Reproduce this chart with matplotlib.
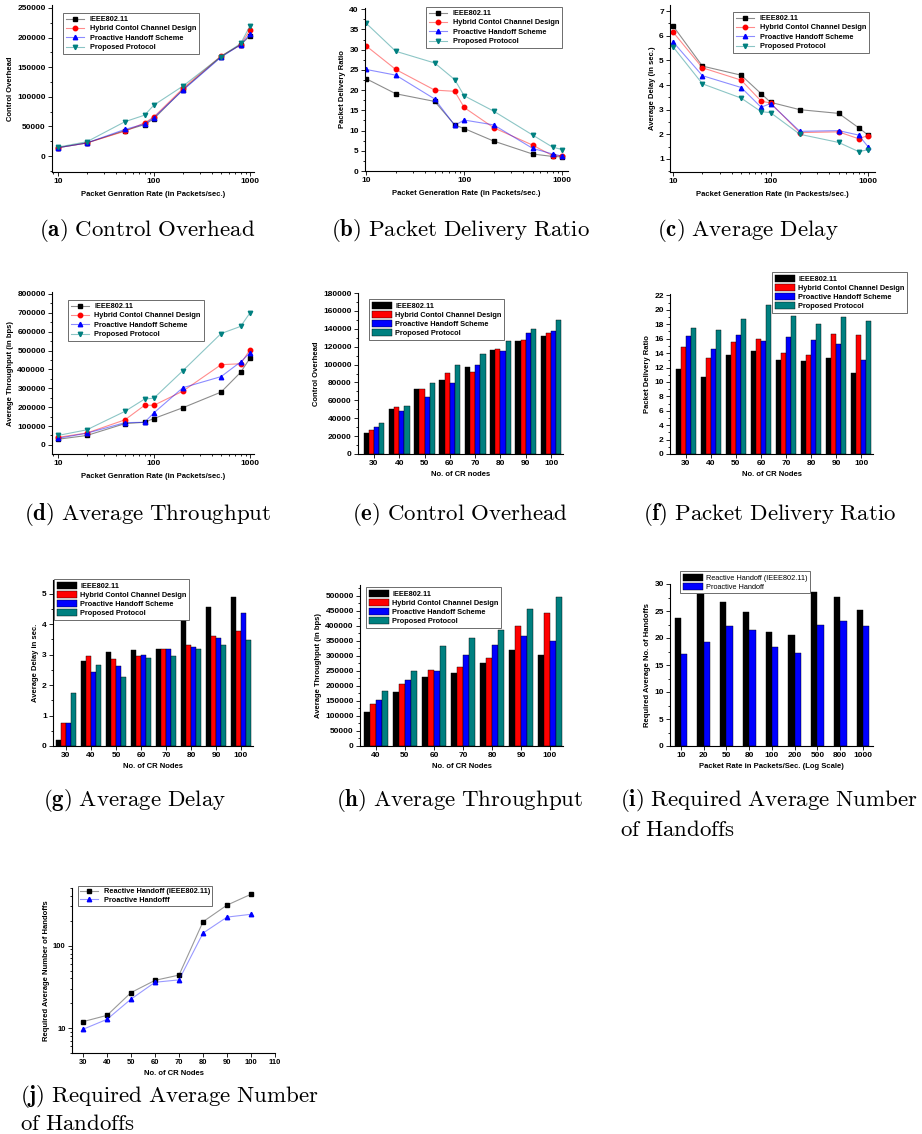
import numpy as np
import matplotlib
matplotlib.use('Agg')
import matplotlib.pyplot as plt
from matplotlib.ticker import MultipleLocator, AutoMinorLocator, FixedLocator, NullFormatter, LogLocator, FuncFormatter

plt.rcParams['font.family'] = ['Liberation Sans', 'DejaVu Sans']
plt.rcParams['font.weight'] = 'bold'
plt.rcParams['axes.labelweight'] = 'bold'
plt.rcParams['mathtext.fontset'] = 'cm'

# ---- data ----
rates = [10, 20, 50, 80, 100, 200, 500, 800, 1000]
nodes = [30, 40, 50, 60, 70, 80, 90, 100]
nodes_h = [40, 50, 60, 70, 80, 90, 100]
rate_labels = ['10', '20', '50', '80', '100', '200', '500', '800', '1000']

names = ['IEEE802.11', 'Hybrid Contol Channel Design', 'Proactive Handoff Scheme', 'Proposed Protocol']

# (a) control overhead vs rate
co_ieee = [14000, 22000, 43000, 53000, 63000, 112000, 168000, 188000, 203000]
co_hyb = [14000, 22000, 42000, 56000, 66000, 114000, 169000, 188000, 213000]
co_pro = [14000, 22000, 45000, 54000, 65000, 111000, 167000, 188000, 206000]
co_new = [15000, 24000, 58000, 69000, 86000, 118000, 168000, 190000, 220000]

# (b) packet delivery ratio vs rate
pdr_ieee = [22.8, 19.1, 17.2, 11.4, 10.5, 7.4, 4.2, 3.6, 3.5]
pdr_hyb = [30.9, 25.1, 20.0, 19.7, 15.7, 10.7, 6.4, 3.8, 3.8]
pdr_pro = [25.1, 23.7, 17.8, 11.3, 12.6, 11.4, 5.6, 4.2, 3.7]
pdr_new = [36.5, 29.6, 26.7, 22.6, 18.6, 14.8, 8.9, 5.9, 5.3]

# (c) average delay vs rate
dl_ieee = [6.4, 4.77, 4.4, 3.65, 3.3, 3.0, 2.85, 2.27, 1.97]
dl_hyb = [6.15, 4.7, 4.2, 3.35, 3.27, 2.07, 2.1, 1.82, 1.95]
dl_pro = [5.75, 4.38, 3.9, 3.1, 3.25, 2.12, 2.15, 1.97, 1.5]
dl_new = [5.55, 4.05, 3.47, 2.92, 2.88, 2.0, 1.67, 1.3, 1.37]

# (d) throughput vs rate
th_ieee = [30000, 50000, 113000, 120000, 140000, 197000, 280000, 385000, 460000]
th_hyb = [40000, 63000, 133000, 210000, 210000, 285000, 425000, 430000, 505000]
th_pro = [35000, 62000, 118000, 120000, 170000, 303000, 362000, 440000, 488000]
th_new = [50000, 80000, 178000, 243000, 248000, 393000, 590000, 628000, 700000]

# (e) control overhead vs nodes
con_ieee = [24000, 50000, 73000, 83000, 97000, 116000, 126000, 132000]
con_hyb = [27000, 53000, 73000, 91000, 92000, 117000, 127000, 135000]
con_pro = [30000, 48000, 64000, 79000, 100000, 115000, 135000, 137000]
con_new = [35000, 54000, 79000, 99000, 112000, 126000, 140000, 150000]

# (f) packet delivery ratio vs nodes
pdn_ieee = [11.8, 10.7, 13.7, 14.3, 13.0, 12.9, 13.3, 11.3]
pdn_hyb = [14.8, 13.3, 15.5, 15.9, 14.0, 13.8, 16.6, 16.5]
pdn_pro = [16.4, 14.5, 16.5, 15.7, 16.2, 15.8, 15.2, 13.1]
pdn_new = [17.5, 17.2, 18.7, 20.7, 19.2, 18.1, 19.0, 18.5]

# (g) average delay vs nodes
dn_ieee = [0.2, 2.8, 3.1, 3.15, 3.2, 4.15, 4.55, 4.9]
dn_hyb = [0.75, 2.95, 2.85, 2.95, 3.18, 3.32, 3.6, 3.78]
dn_pro = [0.75, 2.42, 2.62, 2.98, 3.18, 3.25, 3.55, 4.37]
dn_new = [1.75, 2.67, 2.27, 2.88, 2.97, 3.2, 3.32, 3.47]

# (h) throughput vs nodes
thn_ieee = [113000, 181000, 228000, 241000, 275000, 318000, 301000]
thn_hyb = [141000, 205000, 254000, 261000, 293000, 398000, 441000]
thn_pro = [154000, 219000, 249000, 301000, 336000, 366000, 350000]
thn_new = [184000, 249000, 331000, 359000, 384000, 455000, 494000]

# (i) handoffs vs rate
ho_react = [23.7, 28.2, 26.7, 24.8, 21.2, 20.5, 28.6, 27.6, 25.2]
ho_proact = [17.1, 19.2, 22.2, 21.4, 18.3, 17.2, 22.5, 23.2, 22.3]

# (j) handoffs vs nodes (log)
hn_react = [12, 14.3, 27, 38, 44, 195, 310, 420]
hn_proact = [9.7, 12.8, 22.5, 36, 38.5, 142, 222, 240]

W, H = 922, 1134
fig = plt.figure(figsize=(W / 100, H / 100), dpi=100)

colors = ['black', 'red', 'blue', '#008080']
markers = ['s', 'o', '^', 'v']
TICK = 6
LAB = 5.5
LEG = 5.3
CAP = 16.5


def make_axes(x0, x1, y0, y1):
    ax = fig.add_axes([x0 / W, 1 - y1 / H, (x1 - x0) / W, (y1 - y0) / H])
    ax.spines['top'].set_visible(False)
    ax.spines['right'].set_visible(False)
    for s in ('left', 'bottom'):
        ax.spines[s].set_linewidth(0.8)
    ax.tick_params(which='both', direction='out', labelsize=TICK, width=0.6, pad=1.5)
    ax.tick_params(which='major', length=3)
    ax.tick_params(which='minor', length=1.5)
    return ax


def add_legend(ax, x, y, **kw):
    leg = ax.legend(loc='upper left', bbox_to_anchor=(x / W, 1 - y / H),
                    bbox_transform=fig.transFigure, borderaxespad=0,
                    fancybox=False, framealpha=1, edgecolor='#555555',
                    prop={'size': LEG, 'weight': 'bold'}, **kw)
    leg.get_frame().set_linewidth(0.6)
    return leg


def line_panel(x0, x1, y0, y1, series, ylim, ystep, xlim, ylabel, xlabel, leg_xy):
    ax = make_axes(x0, x1, y0, y1)
    for vals, c, m, n in zip(series, colors, markers, names):
        ax.plot(rates, vals, color=matplotlib.colors.to_rgba(c, 0.45), lw=0.8,
                marker=m, ms=3.2, mfc=c, mec=c, label=n)
    ax.set_xscale('log')
    ax.set_xlim(*xlim)
    ax.set_ylim(*ylim)
    ax.xaxis.set_major_locator(FixedLocator([10, 100, 1000]))
    ax.xaxis.set_major_formatter(FuncFormatter(lambda v, p: '%d' % v))
    ax.xaxis.set_minor_locator(LogLocator(subs=np.arange(2, 10)))
    ax.xaxis.set_minor_formatter(NullFormatter())
    ax.yaxis.set_major_locator(MultipleLocator(ystep))
    ax.yaxis.set_minor_locator(AutoMinorLocator(2))
    ax.set_ylabel(ylabel, fontsize=LAB, labelpad=2)
    ax.set_xlabel(xlabel, fontsize=LAB, labelpad=4)
    add_legend(ax, *leg_xy, handlelength=2.4, labelspacing=0.3, borderpad=0.4)
    return ax


def bar_panel(x0, x1, y0, y1, cats, series, cols, labels, width, xmarg, ylim, ystep,
              ylabel, xlabel, leg_xy, leg_weight='bold'):
    ax = make_axes(x0, x1, y0, y1)
    x = np.arange(len(cats))
    k = len(series)
    for i, (vals, c, n) in enumerate(zip(series, cols, labels)):
        ax.bar(x + (i - (k - 1) / 2) * width, vals, width, color=c,
               edgecolor='black', linewidth=0.3, label=n)
    ax.set_xticks(x)
    ax.set_xticklabels([str(c) for c in cats])
    ax.set_xlim(-xmarg[0], len(cats) - 1 + xmarg[1])
    ax.set_ylim(*ylim)
    ax.yaxis.set_major_locator(MultipleLocator(ystep))
    ax.yaxis.set_minor_locator(AutoMinorLocator(2))
    ax.set_ylabel(ylabel, fontsize=LAB, labelpad=2)
    ax.set_xlabel(xlabel, fontsize=LAB, labelpad=3)
    leg = add_legend(ax, *leg_xy, handlelength=2.8, handleheight=1.1,
                     labelspacing=0.15, borderpad=0.35, handletextpad=0.4)
    for t in leg.get_texts():
        t.set_fontweight(leg_weight)
    return ax


def caption(x, y, letter, text, ha='center'):
    words = text.replace(' ', r'\ ')
    fig.text(x / W, 1 - y / H, r'$\mathbf{(%s)}\ \mathrm{%s}$' % (letter, words),
             ha=ha, va='center', fontsize=CAP)


# row 1
line_panel(52, 254, 5, 172, [co_ieee, co_hyb, co_pro, co_new], (-27000, 255000), 50000,
           (8.7, 1100), 'Control Overhead', 'Packet Genration Rate (in Packets/sec.)', (63, 13))
line_panel(365, 568, 8, 171, [pdr_ieee, pdr_hyb, pdr_pro, pdr_new], (0, 40.3), 5,
           (9.7, 1150), 'Packet Delivery Ratio', 'Packet Generation Rate (in Packets/sec.)', (426, 7))
line_panel(670, 875, 5, 172, [dl_ieee, dl_hyb, dl_pro, dl_new], (0.47, 7.25), 1,
           (9.3, 1180), 'Average Delay (in sec.)', 'Packet Generation Rate (in Packests/sec.)', (733, 12))

# row 2
line_panel(52, 254, 292, 454, [th_ieee, th_hyb, th_pro, th_new], (-48000, 810000), 100000,
           (8.7, 1100), 'Average Throughput (in bps)', 'Packet Genration Rate (in Packets/sec.)', (68, 300))
bar_panel(358, 563, 293, 454, nodes, [con_ieee, con_hyb, con_pro, con_new], colors, names,
          0.205, (0.63, 0.47), (0, 180000), 20000, 'Control Overhead', 'No. of CR nodes', (369, 299))
bar_panel(670, 873, 294, 454, nodes, [pdn_ieee, pdn_hyb, pdn_pro, pdn_new], colors, names,
          0.205, (0.63, 0.47), (0, 22.2), 2, 'Packet Delivery Ratio', 'No. of CR Nodes', (772, 272))

# row 3
bar_panel(53, 253, 580, 746, nodes, [dn_ieee, dn_hyb, dn_pro, dn_new], colors, names,
          0.205, (0.52, 0.48), (0, 5.45), 1, 'Average Delay in sec.', 'No. of CR Nodes', (54, 579))
bar_panel(360, 563, 585, 746, nodes_h, [thn_ieee, thn_hyb, thn_pro, thn_new], colors, names,
          0.205, (0.55, 0.45), (0, 535000), 50000, 'Average Throughput (in bps)', 'No. of CR Nodes', (366, 587))
bar_panel(670, 873, 584, 746, rate_labels, [ho_react, ho_proact], ['black', 'blue'],
          ['Reactive Handoff (IEEE802.11)', 'Proactive Handoff'],
          0.28, (0.48, 0.44), (0, 30), 5, 'Required Average No. of Handoffs',
          'Packet Rate in Packets/Sec. (Log Scale)', (680, 571), leg_weight='normal')

# row 4 (j)
ax = make_axes(72, 275, 888, 1053)
for vals, c, m, n in zip([hn_react, hn_proact], ['black', 'blue'], ['s', '^'],
                         ['Reactive Handoff (IEEE802.11)', 'Proactive Handofff']):
    ax.plot(nodes, vals, color=matplotlib.colors.to_rgba(c, 0.4), lw=0.8,
            marker=m, ms=3.2, mfc=c, mec=c, label=n)
ax.set_yscale('log')
ax.set_ylim(5, 500)
ax.set_xlim(25.4, 110)
ax.xaxis.set_major_locator(MultipleLocator(10))
ax.yaxis.set_major_locator(FixedLocator([10, 100]))
ax.yaxis.set_major_formatter(FuncFormatter(lambda v, p: '%d' % v))
ax.yaxis.set_minor_formatter(NullFormatter())
ax.tick_params(labelsize=5.5)
ax.set_ylabel('Required Average Number of Handoffs', fontsize=LAB, labelpad=2)
ax.set_xlabel('No. of CR Nodes', fontsize=LAB, labelpad=3)
add_legend(ax, 78, 886, handlelength=2.4, labelspacing=0.2, borderpad=0.3)

# captions
caption(147, 230, 'a', 'Control Overhead')
caption(460, 230, 'b', 'Packet Delivery Ratio')
caption(748, 230, 'c', 'Average Delay')
caption(148, 515, 'd', 'Average Throughput')
caption(460, 515, 'e', 'Control Overhead')
caption(770, 515, 'f', 'Packet Delivery Ratio')
caption(135, 800, 'g', 'Average Delay')
caption(460, 800, 'h', 'Average Throughput')
caption(620, 800, 'i', 'Required Average Number', ha='left')
fig.text(620 / W, 1 - 830 / H, r'$\mathrm{of\ Handoffs}$', ha='left', va='center', fontsize=CAP)
caption(20, 1097, 'j', 'Required Average Number', ha='left')
fig.text(20 / W, 1 - 1123 / H, r'$\mathrm{of\ Handoffs}$', ha='left', va='center', fontsize=CAP)

fig.savefig('out.png', dpi=100)
